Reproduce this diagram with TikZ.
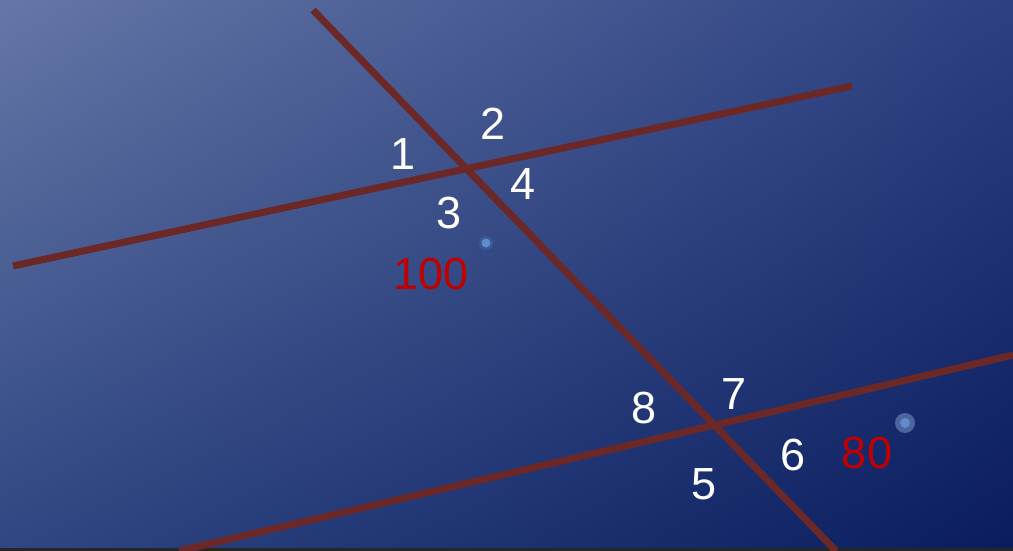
\documentclass[tikz,border=0pt]{standalone}
\usepackage{fontspec}
\setmainfont{Liberation Sans}
\usepackage{tikz}
\usetikzlibrary{positioning, calc, shadings}
\definecolor{bgtopleft}{RGB}{101,119,166}
\definecolor{bgtopright}{RGB}{44,64,130}
\definecolor{bgbotleft}{RGB}{46,70,130}
\definecolor{bgbotright}{RGB}{10,28,94}
\definecolor{linebrown}{RGB}{108,40,38}
\definecolor{anglered}{RGB}{192,0,0}
\definecolor{dotblue}{RGB}{96,140,206}
\tikzset{
	anglelabel/.style={font=\fontsize{32}{32}\selectfont, text=white, inner sep=0pt}
}
\tikzset{
	valuelabel/.style={font=\fontsize{32}{32}\selectfont, text=anglered, inner sep=0pt}
}
\tikzset{
	road/.style={draw=linebrown, line width=5pt}
}

\begin{document}
\begin{tikzpicture}[x=0.025cm, y=-0.025cm]
      \useasboundingbox (0,0) rectangle (1013,551);

      % background
      \shade[upper left=bgtopleft, upper right=bgtopright,
             lower left=bgbotleft, lower right=bgbotright] (0,0) rectangle (1013,551);
      \fill[black!85] (0,548) rectangle (1013,551);

      % end points of the three lines
      \coordinate (tA) at (313,10);
      \coordinate (tB) at (836,551);
      \coordinate (uA) at (13,266);
      \coordinate (uB) at (852,86);
      \coordinate (lA) at (179,551);
      \coordinate (lB) at (1013,355);

      \draw[road] (uA) -- (uB);
      \draw[road] (lA) -- (lB);
      \draw[road] (tA) -- (tB);

      % angle numbers
      \node[anglelabel] (n1) at (403,154) {1};
      \node[anglelabel] (n2) at (493,124) {2};
      \node[anglelabel] (n3) at (449,213) {3};
      \node[anglelabel] (n4) at (523,184) {4};
      \node[anglelabel] (n5) at (704,484) {5};
      \node[anglelabel] (n6) at (793,455) {6};
      \node[anglelabel] (n7) at (734,394) {7};
      \node[anglelabel] (n8) at (644,408) {8};

      % given values
      \node[valuelabel] (v100) at (431,274) {100};
      \node[valuelabel] (v80) at (867,453) {80};

      % small dots
      \fill[dotblue!60!bgbotright, opacity=0.7] (486,243) circle (7);
      \fill[dotblue] (486,243) circle (4.5);
      \fill[dotblue!70!white, opacity=0.45] (905,423) circle (10);
      \fill[dotblue] (905,423) circle (5);
    \end{tikzpicture}
\end{document}
